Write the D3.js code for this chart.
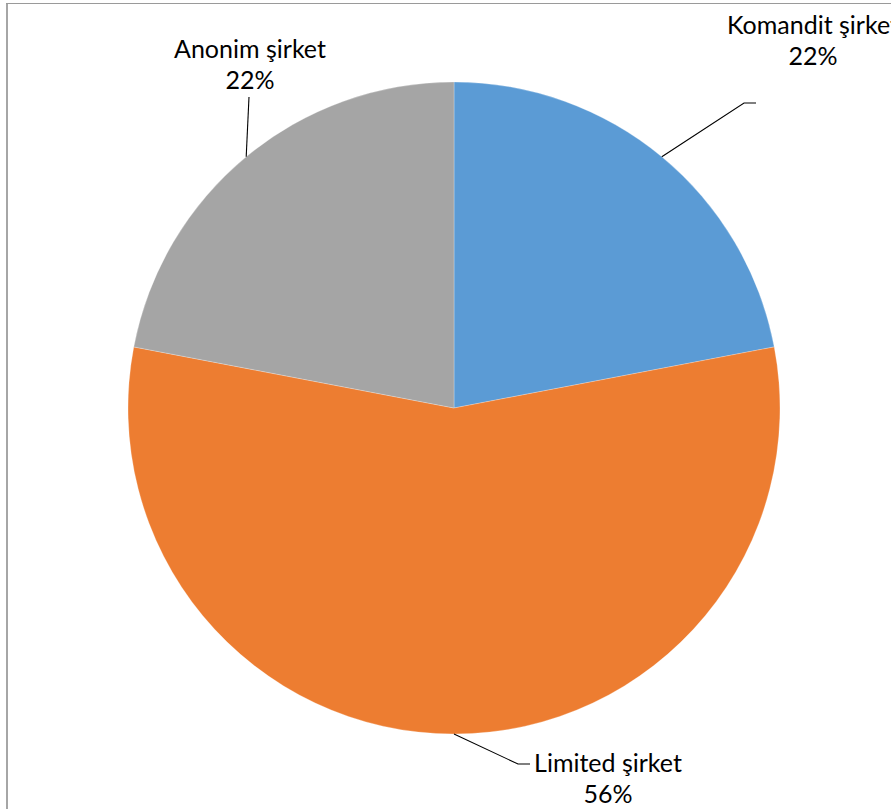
<!DOCTYPE html>
<html>
<head>
<meta charset="utf-8">
<script src="https://cdn.jsdelivr.net/npm/d3@7"></script>
<style>
  html, body { margin: 0; padding: 0; background: #fff; overflow: hidden; }
  svg { display: block; }
</style>
</head>
<body>
<svg id="chart" width="891" height="809"></svg>
<script>
// ---- data ----
const categories = ["Komandit şirket", "Limited şirket", "Anonim şirket"];
const values = [22, 56, 22];
const percentLabels = ["22%", "56%", "22%"];
const colors = ["#5B9BD5", "#ED7D31", "#A5A5A5"];

// ---- layout ----
const W = 891, H = 809;
const cx = 454, cy = 408, R = 326;
const fontFamily = "Lato, 'Open Sans', 'Noto Sans', sans-serif";
const fontSize = 25;
// label layout: elbow point, leader end point, label anchor & baseline
const labelLayout = [
  { elbow: [744, 103], end: [756, 103], tx: 813, ty: 34, anchor: "middle" },
  { elbow: [518, 764], end: [530, 764], tx: 608, ty: 772, anchor: "middle" },
  { elbow: null,       end: [249, 97],  tx: 250, ty: 58, anchor: "middle" }
];

const svg = d3.select("#chart");

// frame
svg.append("line").attr("x1", 7).attr("y1", 3).attr("x2", 7).attr("y2", H)
  .attr("stroke", "#a6a6a6").attr("stroke-width", 2);
svg.append("line").attr("x1", 6).attr("y1", 3.5).attr("x2", W).attr("y2", 3.5)
  .attr("stroke", "#9a9a9a").attr("stroke-width", 1);

const pie = d3.pie().sort(null).value(d => d.value).startAngle(0).endAngle(2 * Math.PI);
const data = categories.map((c, i) => ({ name: c, value: values[i], pct: percentLabels[i], color: colors[i] }));
const arcs = pie(data);
const arc = d3.arc().innerRadius(0).outerRadius(R);

const g = svg.append("g").attr("transform", `translate(${cx},${cy})`);
g.selectAll("path.slice").data(arcs).enter().append("path")
  .attr("class", "slice")
  .attr("d", arc)
  .attr("fill", d => d.data.color)
  .attr("stroke", "#ffffff")
  .attr("stroke-width", 0.5)
  .attr("stroke-opacity", 0.5);

// leader lines
arcs.forEach((d, i) => {
  const mid = (d.startAngle + d.endAngle) / 2;
  const sx = cx + R * Math.sin(mid);
  const sy = cy - R * Math.cos(mid);
  const L = labelLayout[i];
  const pts = [[sx, sy]];
  if (L.elbow) pts.push(L.elbow);
  pts.push(L.end);
  svg.append("path")
    .attr("d", d3.line()(pts))
    .attr("fill", "none")
    .attr("stroke", "#000")
    .attr("stroke-width", 1.1);
});

// labels
arcs.forEach((d, i) => {
  const L = labelLayout[i];
  const t = svg.append("text")
    .attr("x", L.tx).attr("y", L.ty)
    .attr("text-anchor", L.anchor)
    .attr("font-family", fontFamily)
    .attr("font-size", fontSize)
    .attr("fill", "#000");
  t.append("tspan").attr("x", L.tx).attr("dy", 0).text(d.data.name);
  t.append("tspan").attr("x", L.tx).attr("dy", 31).text(d.data.pct);
});
</script>
</body>
</html>
